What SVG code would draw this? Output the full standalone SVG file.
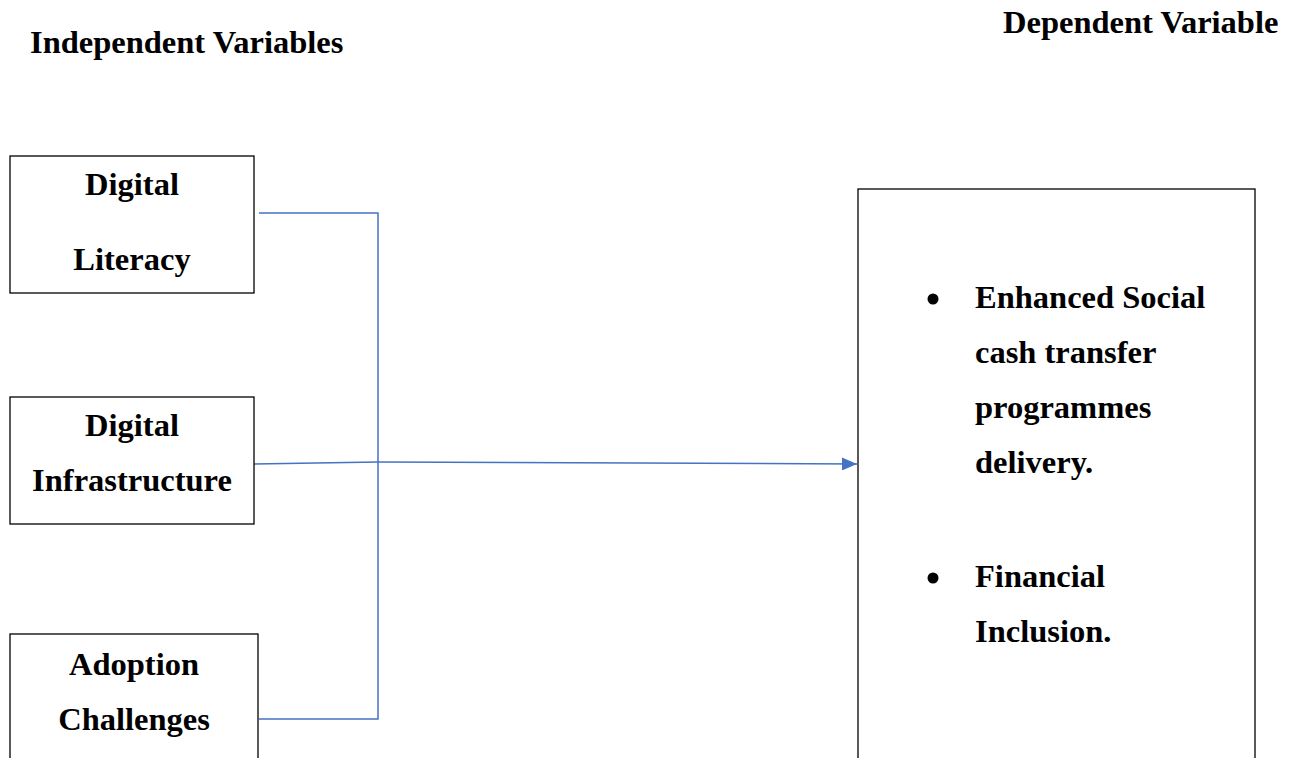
<svg xmlns="http://www.w3.org/2000/svg" width="1295" height="758" viewBox="0 0 1295 758">
<style>
.t{font-family:"Liberation Serif","Times New Roman",serif;font-weight:bold;font-size:32.5px;fill:#000}
.c{text-anchor:middle}
.box{fill:#fff;stroke:#000;stroke-width:1.3}
.ln{fill:none;stroke:#4472C4;stroke-width:1.5}
</style>
<defs>
<marker id="ah" markerWidth="15" markerHeight="13" refX="15" refY="6.5" orient="auto" markerUnits="userSpaceOnUse" viewBox="0 0 15 13">
<path d="M0,0 L15,6.5 L0,13 Z" fill="#4472C4"/>
</marker>
</defs>
<rect width="1295" height="758" fill="#fff"/>
<text class="t" x="30" y="53">Independent Variables</text>
<text class="t" x="1003" y="33">Dependent Variable</text>
<g id="connectors">
<polyline class="ln" points="259,213 378,213 378,719 259,719"/>
<polyline class="ln" points="254,464 378,462 857,464" marker-end="url(#ah)"/>
</g>
<g id="n1">
<rect class="box" x="10" y="156" width="244" height="137"/>
<text class="t c" x="132" y="195">Digital</text>
<text class="t c" x="132" y="270">Literacy</text>
</g>
<g id="n2">
<rect class="box" x="10" y="397" width="244" height="127"/>
<text class="t c" x="132" y="436">Digital</text>
<text class="t c" x="132" y="491">Infrastructure</text>
</g>
<g id="n3">
<rect class="box" x="10" y="634" width="248" height="140"/>
<text class="t c" x="134" y="675">Adoption</text>
<text class="t c" x="134" y="730">Challenges</text>
</g>
<g id="n4">
<rect class="box" x="858" y="189" width="397" height="590"/>
<circle cx="933" cy="299" r="5.5" fill="#000"/>
<text class="t" x="975" y="308">Enhanced Social</text>
<text class="t" x="975" y="363">cash transfer</text>
<text class="t" x="975" y="418">programmes</text>
<text class="t" x="975" y="473">delivery.</text>
<circle cx="933" cy="578" r="5.5" fill="#000"/>
<text class="t" x="975" y="587">Financial</text>
<text class="t" x="975" y="642">Inclusion.</text>
</g>
</svg>
